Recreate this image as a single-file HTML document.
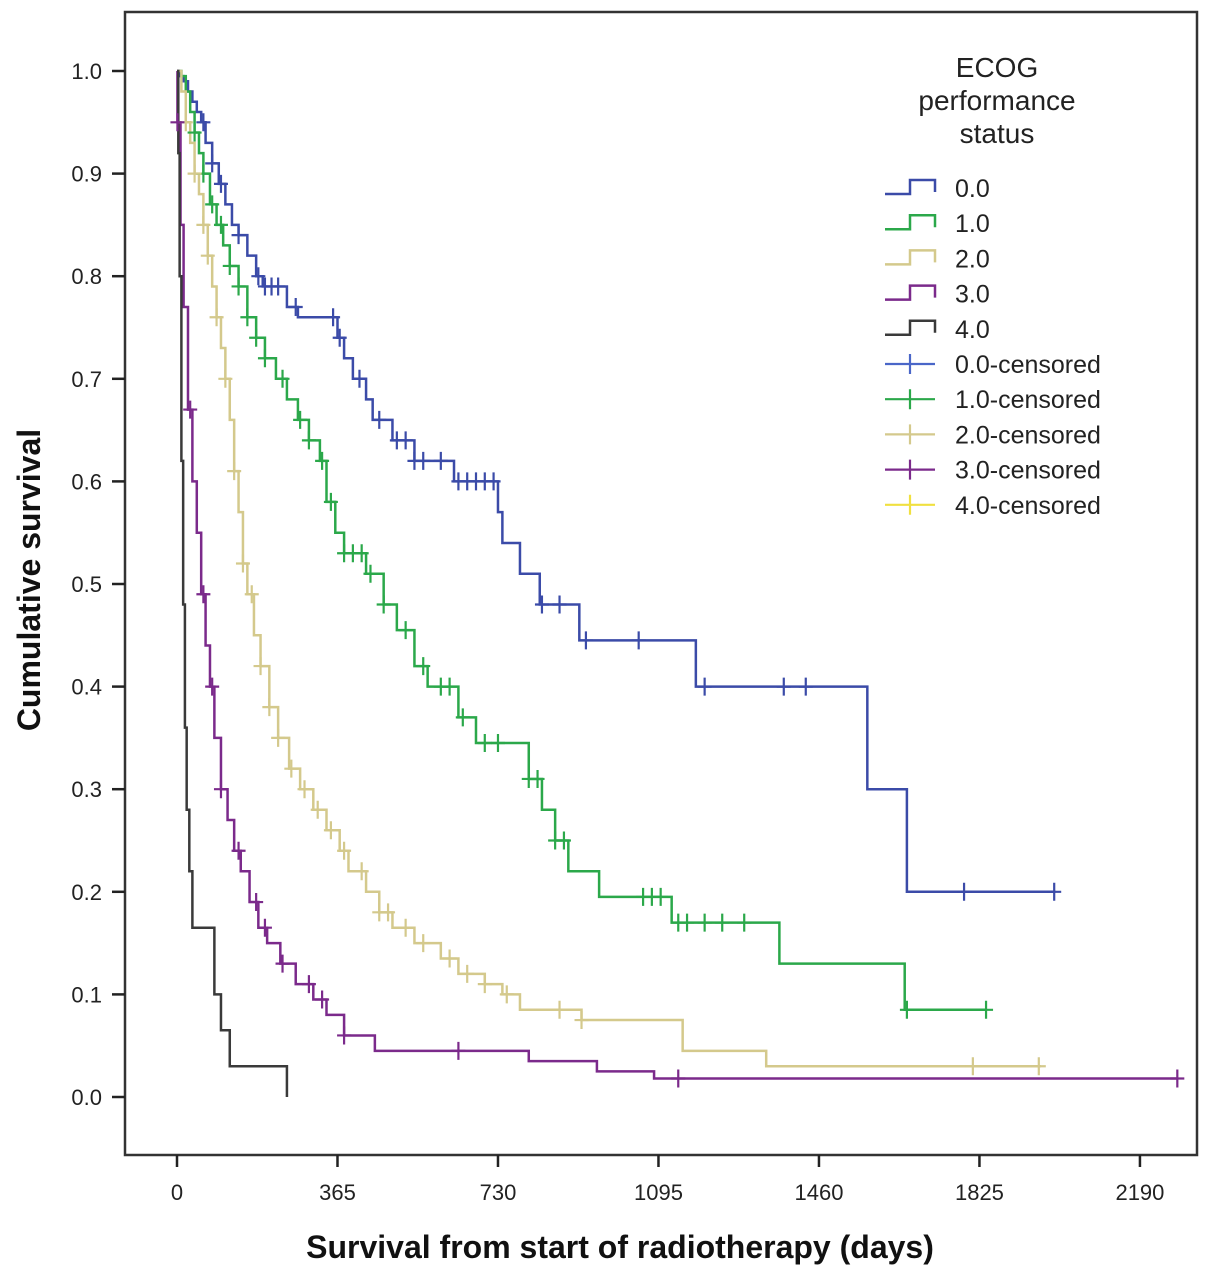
<!DOCTYPE html>
<html><head><meta charset="utf-8"><style>
body{margin:0;background:#fff}
svg{display:block;font-family:"Liberation Sans",Arial,sans-serif}
</style></head><body>
<svg id="c" width="1205" height="1279"></svg>
<script>
const xTicks=[0,365,730,1095,1460,1825,2190];
const yTicks=[0,0.1,0.2,0.3,0.4,0.5,0.6,0.7,0.8,0.9,1.0];
const groupNames=["0.0","1.0","2.0","3.0","4.0"];
const steps0=[[0,1],[5,.995],[15,.99],[25,.98],[35,.97],[45,.96],[55,.95],[65,.93],[80,.91],[95,.89],[110,.87],[125,.85],[140,.84],[160,.82],[180,.8],[195,.79],[250,.77],[275,.76],[365,.74],[380,.72],[400,.7],[430,.68],[445,.66],[490,.64],[540,.62],[630,.6],[730,.57],[740,.54],[780,.51],[825,.48],[915,.445],[1180,.4],[1570,.3],[1660,.2],[1998,.2]];
const steps1=[[0,1],[10,.995],[20,.98],[30,.96],[40,.94],[50,.92],[60,.9],[75,.87],[90,.85],[105,.83],[120,.81],[140,.79],[160,.76],[180,.74],[200,.72],[225,.7],[250,.68],[275,.66],[300,.64],[325,.62],[340,.58],[360,.55],[380,.53],[430,.51],[470,.48],[500,.455],[540,.42],[570,.4],[640,.37],[680,.345],[800,.31],[830,.28],[860,.25],[890,.22],[960,.195],[1125,.17],[1370,.13],[1655,.085],[1840,.085]];
const steps2=[[0,1],[10,.98],[20,.95],[30,.93],[40,.9],[50,.88],[60,.85],[70,.82],[80,.79],[90,.76],[100,.73],[110,.7],[120,.66],[130,.61],[140,.57],[150,.52],[160,.49],[175,.45],[190,.42],[210,.38],[230,.35],[255,.32],[280,.3],[310,.28],[340,.26],[370,.24],[390,.22],[430,.2],[460,.18],[490,.165],[540,.15],[600,.135],[640,.12],[700,.11],[740,.1],[780,.085],[920,.075],[1150,.045],[1340,.03],[1965,.03]];
const steps3=[[0,1],[1,.95],[8,.85],[15,.77],[25,.67],[35,.6],[45,.55],[55,.49],[65,.44],[75,.4],[85,.35],[100,.3],[115,.27],[130,.24],[145,.22],[165,.19],[185,.165],[205,.15],[235,.13],[270,.11],[310,.095],[340,.08],[380,.06],[450,.045],[800,.035],[955,.025],[1085,.018],[2277,.018]];
const steps4=[[0,1],[3,.92],[6,.8],[10,.62],[14,.48],[18,.36],[22,.28],[28,.22],[35,.165],[85,.1],[100,.065],[120,.03],[250,.03],[250,0]];
const cens0=[60,80,100,140,185,200,215,230,270,355,370,415,460,500,520,540,560,600,640,660,680,700,720,830,870,930,1050,1200,1380,1430,1790,1995];
const cens1=[40,60,80,100,120,140,160,180,200,240,280,300,330,350,380,400,420,440,470,520,560,600,620,650,700,730,800,820,860,880,1060,1080,1100,1140,1160,1200,1240,1290,1660,1840];
const cens2=[20,40,60,70,90,110,130,150,170,190,210,230,260,290,320,350,380,420,460,480,520,560,620,660,700,750,870,920,1810,1960];
const cens3=[1,30,60,80,100,140,180,200,240,300,330,380,640,1140,2275];
const colors=["#3b4ba8","#2ba84a","#d4c98c","#7b2a8b","#3a3a3a"];
const censColors=["#4a66c8","#2ba84a","#d4c98c","#7b2a8b","#f0e040"];
const X=d=>177+d*0.4397, Y=v=>1097-v*1026;
const NS="http://www.w3.org/2000/svg", svg=document.getElementById('c');
function mk(t,a,p){const e=document.createElementNS(NS,t);for(const k in a)e.setAttribute(k,a[k]);(p||svg).appendChild(e);return e;}
let e=mk('rect',{x:125,y:12,width:1072,height:1143,fill:'none',stroke:'#333','stroke-width':2.5});


yTicks.forEach(v=>{const l=mk('line',{x1:112,x2:125,y1:Y(v),y2:Y(v),stroke:'#222','stroke-width':2.5});


const t=mk('text',{x:102,y:Y(v)+8,'text-anchor':'end','font-size':22,fill:'#222'});t.textContent=v.toFixed(1);

});
xTicks.forEach(d=>{const l=mk('line',{x1:X(d),x2:X(d),y1:1155,y2:1167,stroke:'#222','stroke-width':2.5});


const t=mk('text',{x:X(d),y:1200,'text-anchor':'middle','font-size':22,fill:'#222'});t.textContent=d;

});
let yt=mk('text',{x:0,y:0,transform:'translate(40,580) rotate(-90)','text-anchor':'middle','font-size':32,'font-weight':'bold',fill:'#111'});yt.textContent='Cumulative survival';


let xt=mk('text',{x:620,y:1258,'text-anchor':'middle','font-size':32,'font-weight':'bold',fill:'#111'});xt.textContent='Survival from start of radiotherapy (days)';


const allSteps=[steps0,steps1,steps2,steps3,steps4], allCens=[cens0,cens1,cens2,cens3];
function valAt(s,d){let v=s[0][1];for(const p of s){if(p[0]<=d)v=p[1];}return v;}
allSteps.forEach((s,i)=>{let dd='M'+X(s[0][0])+','+Y(s[0][1]);for(let k=1;k<s.length;k++){dd+=' H'+X(s[k][0])+' V'+Y(s[k][1]);}
const p=mk('path',{d:dd,fill:'none',stroke:colors[i],'stroke-width':2.5});

});
allCens.forEach((c,i)=>{c.forEach(d=>{const x=X(d),y=Y(valAt(allSteps[i],d));
const g=mk('path',{d:`M${x-7},${y} H${x+7} M${x},${y-9} V${y+9}`,stroke:colors[i],'stroke-width':2.2,fill:'none'});

});});
["ECOG","performance","status"].forEach((w,k)=>{const t=mk('text',{x:997,y:77+k*33,'text-anchor':'middle','font-size':28,fill:'#222'});t.textContent=w;

});
const labels=["0.0","1.0","2.0","3.0","4.0","0.0-censored","1.0-censored","2.0-censored","3.0-censored","4.0-censored"];
labels.forEach((lab,k)=>{const y=188+k*35.2;
const c=k<5?colors[k]:censColors[k-5];
const sym=k<5?mk('path',{d:`M885,${y+6} H910 V${y-8} H935 V${y+4}`,fill:'none',stroke:c,'stroke-width':2.5}):mk('path',{d:`M885,${y} H935 M910,${y-10} V${y+10}`,fill:'none',stroke:c,'stroke-width':2.2});


const t=mk('text',{x:955,y:y+9,'font-size':25,fill:'#222'});t.textContent=lab;

});
</script>
</body></html>
